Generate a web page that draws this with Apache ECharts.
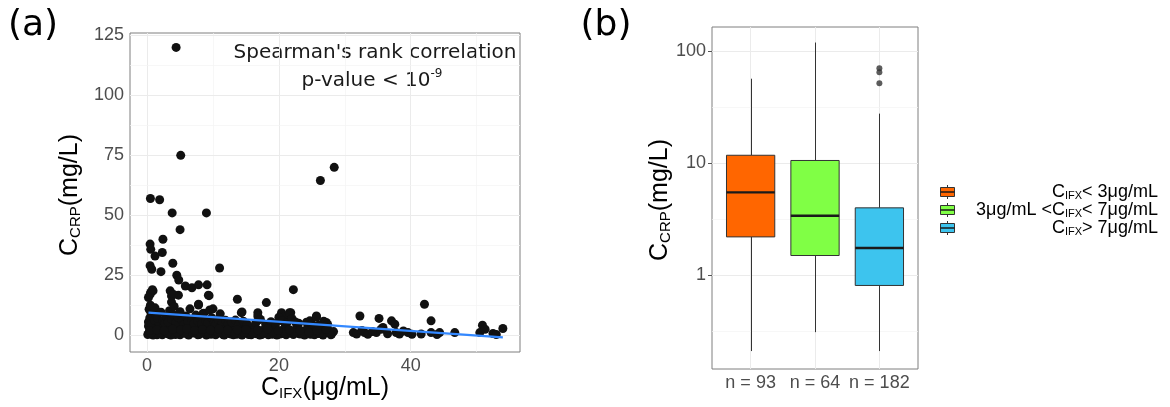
<!DOCTYPE html>
<html><head><meta charset="utf-8">
<script src="https://cdn.jsdelivr.net/npm/echarts@6/dist/echarts.min.js"></script>
<style>html,body{margin:0;padding:0;background:#fff}#c{width:1170px;height:407px}</style>
</head><body><div id="c"></div>
<script>
// ---------- Panel (a): C_CRP vs C_IFX ----------
const crpVsIfx = [
  [4.4,120],[5.1,75],[26.3,64.5],[28.4,70],[0.5,57],[1.9,56.5],[3.8,51],[9.0,51],[5.0,44],[2.4,40],
  [0.45,38],[0.55,35.8],[2.3,34.5],[1.2,33],[0.45,29],[3.9,30],[11,28],[0.7,27.5],[2.1,26.5],[4.5,25],
  [4.8,23],[5.8,20.5],[6.8,19.8],[7.8,21],[9.1,21],[22.2,19],[9.4,16.5],[0.55,17.8],[0.9,18.5],[3.5,18.5],
  [3.7,16.4],[4.75,16.7],[0.2,15.7],[13.7,15],[18.1,13.6],[7.8,12.6],[10,11],[42.1,12.9],[14.4,9.7],[16.8,9.4],
  [16.8,8],[20.4,9.4],[21.8,9.4],[20.8,7.6],[32.3,8],[25.7,8],[35.2,7],[43.1,6],[37.1,6],[37.6,4.6],
  [50.9,4.2],[54,2.8],[52.5,0.7],[50.5,1.1],[46.7,1.1],[44.4,1.1],[43.1,1.1],[41.6,0.5],[39.6,1.1],[37.8,1.1],
  [35.8,3.2],[34.8,1.1],[33,1.1],[31.3,1.1],[27.2,5.3],[24.7,6],[27.7,1.1],[23.2,0.5],
  [4.0,17],[3.7,13.8],[0.45,17],[0.8,19],[7.8,12.9],[8.5,9.1],[14.3,9.4],[21.6,9.4],[25.7,7.6],[9.3,16.7],
  [0.1,0.3],[0.3,1.2],[0.5,2.5],[0.2,3.8],[0.8,0.6],[1.0,1.9],[1.3,3.1],[1.5,0.2],[1.7,1.4],[2.0,2.6],
  [2.2,4.2],[2.5,0.8],[2.8,1.8],[3.0,3.3],[3.3,0.4],[3.5,2.2],[3.8,1.1],[4.0,4.6],[4.3,0.3],[4.6,2.9],
  [4.9,1.5],[5.2,0.7],[5.5,3.6],[5.8,2.0],[6.1,0.5],[6.4,1.3],[6.7,3.0],[7.0,0.9],[7.3,2.4],[7.6,4.0],
  [7.9,0.3],[8.2,1.7],[8.5,2.8],[8.8,0.6],[9.1,3.5],[9.4,1.2],[9.7,0.4],[10.0,2.1],[10.3,3.2],[10.6,0.8],
  [10.9,1.6],[11.2,4.4],[11.5,0.3],[11.8,2.3],[12.1,1.0],[12.4,3.0],[12.7,0.5],[13.0,1.8],[13.3,2.7],[13.6,0.4],
  [13.9,1.3],[14.2,3.4],[14.5,0.7],[14.8,2.0],[15.1,1.1],[15.4,0.3],[15.7,2.6],[16.0,1.4],[16.3,3.8],[16.6,0.6],
  [17.0,1.9],[17.4,0.3],[17.8,2.4],[18.2,0.9],[18.6,1.6],[19.0,0.4],[19.4,2.9],[19.8,1.2],[20.2,0.5],[20.6,2.2],
  [21.0,3.9],[21.4,0.8],[21.8,1.7],[22.2,0.3],[22.6,2.5],[23.5,0.6],[24.0,1.9],[24.4,3.2],[24.8,0.4],[25.2,1.4],
  [25.6,2.6],[26.0,0.7],[26.5,3.5],[27.0,1.0],[27.5,2.2],[28.0,0.5],[28.3,1.5],
  [0.2,5.5],[0.4,7.2],[0.6,9.0],[0.3,10.8],[0.5,12.5],[0.7,4.8],[1.1,6.3],[1.4,8.1],[1.2,11.4],[1.8,5.2],
  [1.6,7.0],[2.1,9.6],[2.4,6.0],[2.7,4.9],[2.9,7.8],[3.2,5.6],[3.4,10.2],[3.7,6.8],[3.9,8.7],[4.1,12.0],
  [4.4,5.3],[4.7,7.5],[5.0,9.8],[5.3,6.1],[5.6,4.5],[5.9,8.0],[6.2,5.7],[6.5,11.0],[6.8,6.6],[7.1,4.7],
  [7.4,8.4],[7.7,5.9],[8.0,7.1],[8.3,4.6],[8.6,9.2],[8.9,6.0],[9.2,5.0],[9.5,10.5],[9.8,7.3],[10.2,5.4],
  [10.5,4.8],[10.8,6.7],[11.1,8.9],[11.4,5.1],[11.9,6.2],[12.3,4.7],[12.8,5.5],[13.4,6.3],[14.0,4.9],[14.6,5.8],
  [15.2,4.6],[16.5,5.2],[17.2,6.6],[18.0,4.5],[18.8,5.6],[19.5,4.8],[20.0,7.5],[20.5,6.0],[21.2,5.1],[22.0,6.9],
  [23.0,5.0],[24.2,5.4],[25.0,4.7],[26.8,5.8],[27.4,4.5],
  [0.9,0.1],[2.3,0.2],[3.6,0.1],[5.0,0.2],[6.3,0.1],[7.7,0.2],[9.0,0.1],[10.4,0.2],[11.7,0.1],[13.1,0.2],
  [14.4,0.1],[15.8,0.2],[17.1,0.1],[18.4,0.2],[19.7,0.1],[21.1,0.2],[23.9,0.1],[25.4,0.2],[26.7,0.1],[27.9,0.2],
  [0.6,1.0],[1.9,1.1],[3.1,0.9],[4.5,1.2],[5.7,1.0],[6.9,1.1],[8.1,0.9],[9.3,1.0],[10.7,1.2],[12.0,0.9],
  [13.3,1.0],[14.7,1.1],[16.1,0.9],[17.6,1.0],[19.1,1.1],[20.9,0.9],[22.4,1.0],[24.6,1.1],[26.2,0.9],[27.7,1.0],
  [0.4,2.0],[1.5,2.3],[2.6,1.9],[3.9,2.5],[5.1,2.2],[6.0,2.7],[7.2,2.0],[8.4,2.4],[9.6,2.1],[10.9,2.6],
  [12.2,2.1],[13.7,2.3],[15.0,2.4],[16.8,2.2],[18.3,2.6],[19.9,2.0],[21.6,2.3],[23.2,2.1],[25.8,2.0],[27.2,2.5],
  [31.8,0.5],[32.6,2.0],[33.5,0.4],[34.2,1.5],[35.5,2.5],[36.5,0.6],[38.3,0.5],[38.9,1.8],[40.2,0.4],[44.0,0.3],
  [51.3,2.5],[53.0,0.3],[26.0,4.2],[22.5,5.5]
];
const fitLine = [[0.2, 9.4], [54, -0.9]];
const xTicksA = [0, 20, 40];
const xMinorA = [10, 30, 50];
const yTicksA = [0, 25, 50, 75, 100, 125];
const yMinorA = [12.5, 37.5, 62.5, 87.5, 112.5];

// ---------- Panel (b): boxplots of C_CRP by C_IFX group ----------
const groupLabels = ['{m|C}{s|IFX}{m|< 3μg/mL}', '{m|3μg/mL <C}{s|IFX}{m|< 7μg/mL}', '{m|C}{s|IFX}{m|> 7μg/mL}'];
const nLabels = ['n = 93', 'n = 64', 'n = 182'];
// [lower whisker, Q1, median, Q3, upper whisker] in mg/L
const boxStats = [
  [0.21, 2.2, 5.5, 11.8, 57],
  [0.31, 1.5, 3.4, 10.6, 120],
  [0.21, 0.81, 1.75, 4.0, 27.8]
];
const outliers = [[3, 70.6], [3, 65], [3, 52]];
const boxColors = ['#FF6600', '#80FF45', '#3DC4EE'];
const yTicksB = [1, 10, 100];
const yMinorB = [0.3162, 3.162, 31.62];

const L = Math.log10;
const tickColor = '#4d4d4d';
const lab = 'Liberation Sans, Arial, sans-serif';

function gridLines(xs, xsMinor, ys, ysMinor) {
  const maj = {color: '#ebebeb', width: 1, type: 'solid'};
  const min = {color: '#f4f4f4', width: 0.7, type: 'solid'};
  return [].concat(
    xs.map(v => ({xAxis: v, lineStyle: maj})),
    xsMinor.map(v => ({xAxis: v, lineStyle: min})),
    ys.map(v => ({yAxis: v, lineStyle: maj})),
    ysMinor.map(v => ({yAxis: v, lineStyle: min}))
  );
}

const chart = echarts.init(document.getElementById('c'), null, {renderer: 'canvas'});
const titleRich = {
  m: {fontSize: 25, fontFamily: lab, fill: '#000', lineHeight: 27, verticalAlign: 'middle'},
  s: {fontSize: 15, fontFamily: lab, fill: '#000', lineHeight: 27, verticalAlign: 'bottom'}
};
const legRich = {
  m: {fontSize: 18, fontFamily: lab, fill: '#000', lineHeight: 18, verticalAlign: 'middle'},
  s: {fontSize: 11, fontFamily: lab, fill: '#000', lineHeight: 18, verticalAlign: 'bottom'}
};

const graphics = [
  {type: 'text', x: 33, y: 26, style: {text: '(a)', font: '36px DejaVu Sans', fill: '#000', align: 'center', verticalAlign: 'middle'}},
  {type: 'text', x: 606, y: 26, style: {text: '(b)', font: '36px DejaVu Sans', fill: '#000', align: 'center', verticalAlign: 'middle'}},
  {type: 'text', x: 375, y: 53, style: {text: "Spearman's rank correlation", font: '20px DejaVu Sans', fill: '#1a1a1a', align: 'center', verticalAlign: 'middle'}},
  {type: 'text', x: 372, y: 81, style: {text: '{m|p-value < 10}{p|-9}', align: 'center', verticalAlign: 'middle',
     rich: {m: {fontSize: 20, fontFamily: 'DejaVu Sans', fill: '#1a1a1a', lineHeight: 26, verticalAlign: 'middle'},
            p: {fontSize: 12, fontFamily: 'DejaVu Sans', fill: '#1a1a1a', lineHeight: 26, verticalAlign: 'top'}}}},
  {type: 'text', x: 70, y: 195, rotation: Math.PI / 2, style: {text: '{m|C}{s|CRP}{m|(mg/L)}', align: 'center', verticalAlign: 'middle', rich: titleRich}},
  {type: 'text', x: 325, y: 388, style: {text: '{m|C}{s|IFX}{m|(μg/mL)}', align: 'center', verticalAlign: 'middle', rich: titleRich}},
  {type: 'text', x: 660, y: 200, rotation: Math.PI / 2, style: {text: '{m|C}{s|CRP}{m|(mg/L)}', align: 'center', verticalAlign: 'middle', rich: titleRich}}
];
groupLabels.forEach((t, i) => {
  const cy = 192 + i * 18;
  graphics.push({type: 'line', shape: {x1: 947.5, y1: cy - 7, x2: 947.5, y2: cy + 7}, style: {stroke: '#333', lineWidth: 1}});
  graphics.push({type: 'rect', shape: {x: 940.5, y: cy - 4.5, width: 14, height: 9}, style: {fill: boxColors[i], stroke: '#333', lineWidth: 1}});
  graphics.push({type: 'line', shape: {x1: 940.5, y1: cy, x2: 954.5, y2: cy}, style: {stroke: '#1a1a1a', lineWidth: 1.5}});
  graphics.push({type: 'text', x: 1158, y: cy, style: {text: t, align: 'right', verticalAlign: 'middle', rich: legRich}});
});

const axisCommon = {
  axisLine: {show: false},
  splitLine: {show: false},
  axisTick: {show: true, length: 4, lineStyle: {color: '#555', width: 1}},
  axisLabel: {color: tickColor, fontSize: 18, fontFamily: lab}
};

chart.setOption({
  animation: false,
  backgroundColor: '#fff',
  grid: [
    {left: 130, top: 33, width: 390, height: 319, show: true, borderColor: '#7f7f7f', borderWidth: 1, backgroundColor: 'transparent'},
    {left: 712, top: 27, width: 206, height: 342, show: true, borderColor: '#7f7f7f', borderWidth: 1, backgroundColor: 'transparent'}
  ],
  xAxis: [
    {type: 'value', gridIndex: 0, min: -2.6, max: 56.6, ...axisCommon,
     axisTick: {...axisCommon.axisTick, customValues: xTicksA},
     axisLabel: {...axisCommon.axisLabel, customValues: xTicksA, margin: 5}},
    {type: 'value', gridIndex: 1, min: 0.4, max: 3.6, ...axisCommon,
     axisTick: {...axisCommon.axisTick, customValues: [1, 2, 3]},
     axisLabel: {...axisCommon.axisLabel, customValues: [1, 2, 3], margin: 5, formatter: v => nLabels[Math.round(v) - 1]}}
  ],
  yAxis: [
    {type: 'value', gridIndex: 0, min: -7, max: 126, ...axisCommon,
     axisTick: {...axisCommon.axisTick, customValues: yTicksA},
     axisLabel: {...axisCommon.axisLabel, customValues: yTicksA, margin: 6}},
    {type: 'value', gridIndex: 1, min: -0.838, max: 2.218, ...axisCommon,
     axisTick: {...axisCommon.axisTick, customValues: yTicksB.map(L)},
     axisLabel: {...axisCommon.axisLabel, customValues: yTicksB.map(L), margin: 6, formatter: v => String(Math.round(Math.pow(10, v)))}}
  ],
  series: [
    {type: 'line', xAxisIndex: 0, yAxisIndex: 0, data: [], z: 1, silent: true,
     markLine: {silent: true, z: 1, symbol: ['none', 'none'], label: {show: false}, animation: false,
       data: gridLines(xTicksA, xMinorA, yTicksA, yMinorA)}},
    {type: 'scatter', xAxisIndex: 0, yAxisIndex: 0, data: crpVsIfx, symbolSize: 9, z: 3,
     itemStyle: {color: '#111', opacity: 1}},
    {type: 'line', xAxisIndex: 0, yAxisIndex: 0, data: fitLine, showSymbol: false, z: 4,
     lineStyle: {color: '#3388FF', width: 2.2}},
    {type: 'line', xAxisIndex: 1, yAxisIndex: 1, data: [], z: 1, silent: true,
     markLine: {silent: true, z: 1, symbol: ['none', 'none'], label: {show: false}, animation: false,
       data: gridLines([1, 2, 3], [], yTicksB.map(L), yMinorB.map(L))}},
    {type: 'custom', xAxisIndex: 1, yAxisIndex: 1, z: 3,
     data: boxStats.map((s, i) => [i + 1].concat(s.map(L))),
     encode: {x: 0, y: [1, 2, 3, 4, 5]},
     renderItem: function (params, api) {
       const x = api.value(0), hw = 0.375;
       const lo = api.coord([x, api.value(1)]), q1 = api.coord([x, api.value(2)]);
       const md = api.coord([x, api.value(3)]), q3 = api.coord([x, api.value(4)]);
       const hi = api.coord([x, api.value(5)]);
       const left = api.coord([x - hw, 0])[0], right = api.coord([x + hw, 0])[0];
       const cx = Math.round(lo[0]) + 0.5;
       const st = {stroke: '#333', lineWidth: 1};
       return {type: 'group', children: [
         {type: 'line', shape: {x1: cx, y1: hi[1], x2: cx, y2: q3[1]}, style: st},
         {type: 'line', shape: {x1: cx, y1: q1[1], x2: cx, y2: lo[1]}, style: st},
         {type: 'rect', shape: {x: left, y: q3[1], width: right - left, height: q1[1] - q3[1]},
          style: {fill: boxColors[params.dataIndex], stroke: '#333', lineWidth: 1}},
         {type: 'line', shape: {x1: left, y1: md[1], x2: right, y2: md[1]}, style: {stroke: '#1a1a1a', lineWidth: 2.4}}
       ]};
     }},
    {type: 'scatter', xAxisIndex: 1, yAxisIndex: 1, z: 4, data: outliers.map(p => [p[0], L(p[1])]),
     symbolSize: 6, itemStyle: {color: '#333'}}
  ],
  graphic: graphics
});
</script></body></html>
